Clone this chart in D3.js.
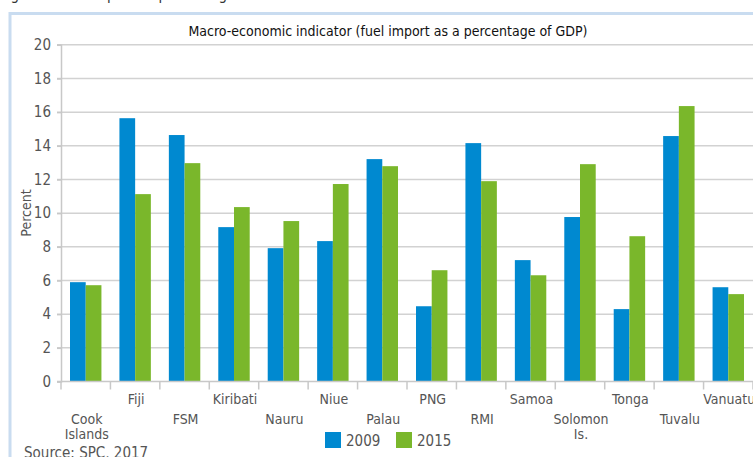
<!DOCTYPE html>
<html><head><meta charset="utf-8">
<script src="https://cdn.jsdelivr.net/npm/d3@7/dist/d3.min.js"></script>
<style>
html,body{margin:0;padding:0;background:#fff;overflow:hidden}
svg{display:block}
text{font-family:"Liberation Sans Narrow","DejaVu Sans Condensed","Roboto",sans-serif}
</style></head>
<body>
<script>
const categories = ["Cook\nIslands","Fiji","FSM","Kiribati","Nauru","Niue","Palau","PNG","RMI","Samoa","Solomon\nIs.","Tonga","Tuvalu","Vanuatu"];
const series = ["2009","2015"];
const values2009 = [5.9,15.64,14.64,9.17,7.92,8.34,13.21,4.47,14.16,7.21,9.77,4.3,14.58,5.6];
const values2015 = [5.72,11.13,12.97,10.36,9.53,11.73,12.79,6.61,11.9,6.31,12.91,8.63,16.36,5.19];
const yTicks = [0,2,4,6,8,10,12,14,16,18,20];
const colors = ["#0089d0","#7ab72b"];
const title = "Macro-economic indicator (fuel import as a percentage of GDP)";

const W=753,H=457;
const svg=d3.select("body").append("svg").attr("width",W).attr("height",H);

// clipped figure caption at top (only descenders visible)
svg.append("text").attr("x",0).attr("y",0).attr("font-size",15).attr("fill","#333")
  .text("Figure 3  Fuel import as percentage of GDP");

// outer frame
svg.append("path").attr("d","M10,460 V13.5 H760").attr("fill","none").attr("stroke","#c9dcf0").attr("stroke-width",3);

const x0=d3.scaleBand().domain(d3.range(categories.length)).range([61,753]).padding(0);
const bw=x0.bandwidth();
const x1=d3.scaleBand().domain(series).range([9,bw-9]).padding(0);
const y=d3.scaleLinear().domain([0,20]).range([381.5,44.8]);

// gridlines
svg.append("g").selectAll("line").data(yTicks.filter(d=>d>0)).join("line")
  .attr("x1",57).attr("x2",W).attr("y1",d=>y(d)).attr("y2",d=>y(d))
  .attr("stroke","#d2d2d2").attr("stroke-width",1.5);

// y axis
const yAxis=svg.append("g").attr("transform","translate(61,0)")
  .call(d3.axisLeft(y).tickValues(yTicks).tickSize(4).tickPadding(6));
yAxis.select(".domain").attr("stroke","#c8c8c8").attr("stroke-width",1.5);
yAxis.selectAll(".tick line").attr("stroke","#c8c8c8").attr("stroke-width",1.5);
yAxis.selectAll(".tick text").attr("font-size",15).attr("fill","#555");

// bars
const g=svg.append("g");
const data=categories.map((c,i)=>({i,vals:[values2009[i],values2015[i]]}));
g.selectAll("g").data(data).join("g").attr("transform",d=>`translate(${x0(d.i)},0)`)
  .selectAll("rect").data(d=>d.vals.map((v,k)=>({k,v}))).join("rect")
  .attr("x",d=>x1(series[d.k])).attr("width",x1.bandwidth())
  .attr("y",d=>y(d.v)).attr("height",d=>y(0)-y(d.v))
  .attr("fill",d=>colors[d.k]);

// x axis line
svg.append("line").attr("x1",57).attr("x2",W).attr("y1",y(0)).attr("y2",y(0)).attr("stroke","#c8c8c8").attr("stroke-width",1.5);
// x tick marks at boundaries
const bounds=d3.range(categories.length+1).map(i=>61+i*bw);
svg.append("g").selectAll("line").data(bounds).join("line")
  .attr("x1",d=>d).attr("x2",d=>d).attr("y1",y(0)).attr("y2",y(0)+8)
  .attr("stroke","#c8c8c8").attr("stroke-width",1.5);

// x labels staggered
const xl=svg.append("g");
categories.forEach((c,i)=>{
  const lines=c.split("\n");
  const cx=x0(i)+bw/2+1;
  const baseY = (i%2===1)?404:424;
  const t=xl.append("text").attr("x",cx).attr("y",baseY).attr("text-anchor","middle")
    .attr("font-size",14).attr("fill","#555");
  lines.forEach((l,j)=>t.append("tspan").attr("x",cx).attr("dy",j===0?0:15).text(l));
});

// y label
svg.append("text").attr("transform","translate(31,213) rotate(-90)").attr("text-anchor","middle")
  .attr("font-size",14).attr("fill","#555").text("Percent");

// title
svg.append("text").attr("x",388).attr("y",36).attr("text-anchor","middle").attr("font-size",14)
  .attr("fill","#111").text(title);

// legend
const lg=svg.append("g");
const lx=[325,396];
series.forEach((s,k)=>{
  lg.append("rect").attr("x",lx[k]).attr("y",432).attr("width",16).attr("height",16).attr("fill",colors[k]);
  lg.append("text").attr("x",lx[k]+21).attr("y",446).attr("font-size",15).attr("fill","#555").text(s);
});

// source
svg.append("text").attr("x",24).attr("y",458).attr("font-size",15).attr("fill","#555").text("Source: SPC, 2017");
</script>
</body></html>
